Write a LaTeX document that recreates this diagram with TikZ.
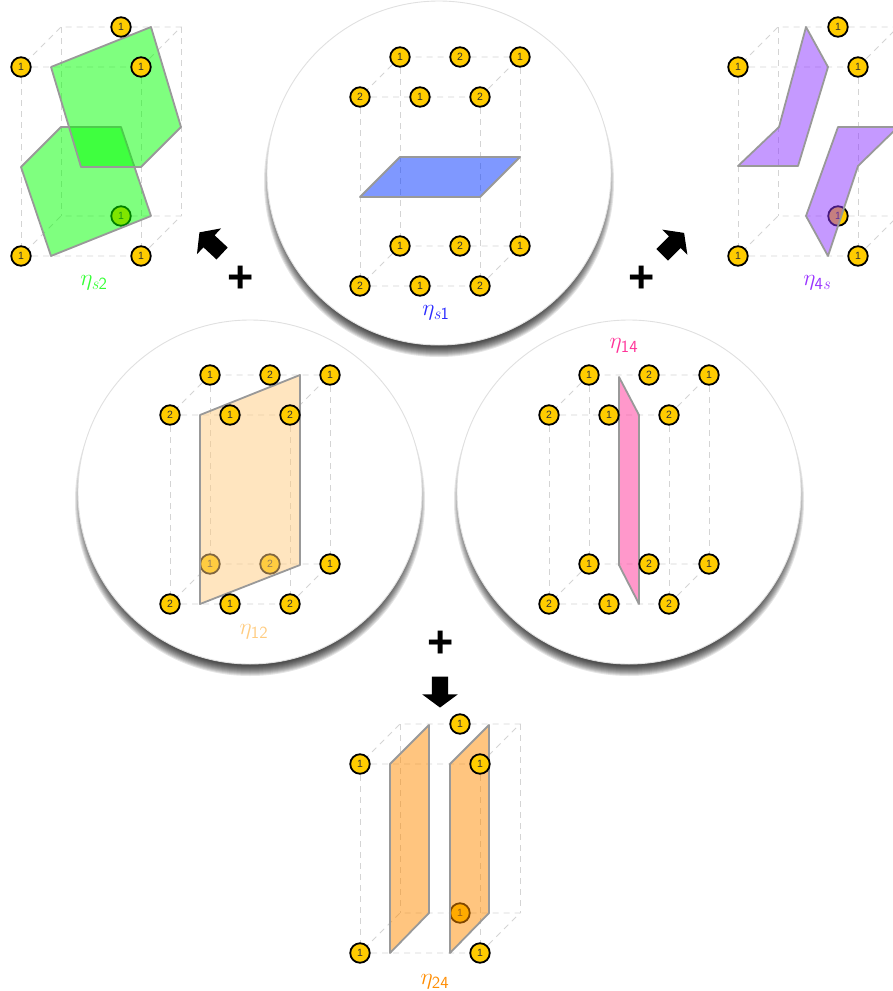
\documentclass[tikz,border=0pt]{standalone}
\usepackage{fontspec}
\newfontfamily\atomfont{Liberation Sans}
\usetikzlibrary{shapes.arrows}

\definecolor{atomyellow}{HTML}{FFCC00}
\definecolor{colS1}{HTML}{0033FF}
\definecolor{tagS1}{HTML}{2A2AFF}
\definecolor{colS2}{HTML}{00FF00}
\definecolor{col4S}{HTML}{8C33FF}
\definecolor{tag4S}{HTML}{9933FF}
\definecolor{col12}{HTML}{FFCC80}
\definecolor{col14}{HTML}{FF3399}
\definecolor{col24}{HTML}{FF8C00}

\tikzset{
	edge/.style={draw=black!17,line width=0.9pt,dash pattern=on 6pt off 5pt},
	atom/.style={circle,draw=black,line width=1.8pt,fill=atomyellow,minimum size=19.5pt,inner sep=0pt,font=\atomfont\fontsize{10.5}{10.5}\selectfont,text=black!80},
	plane/.style={draw=black!40,line width=1.8pt,line join=round,fill opacity=0.5},
	bubble/.style={circle,fill=white,draw=black!12,line width=0.9pt,minimum size=344pt,inner sep=0pt},
	tag/.style={inner sep=0pt,scale=1.35,font=\fontsize{18}{18}\selectfont},
	bigarrow/.style={single arrow,fill=black,inner sep=0pt,text width=6pt,text height=8pt,text depth=8pt,minimum height=31pt,single arrow head extend=9.5pt,single arrow tip angle=107},
	plus/.style={inner sep=0pt,font=\atomfont\bfseries\fontsize{45}{45}\selectfont}
}

% name, x and y of the top front left corner
\newcommand{\cellframe}[3]{
	\coordinate (#1tfl) at (#2,#3);
	\coordinate (#1tfm) at (#2+60,#3);
	\coordinate (#1tfr) at (#2+120,#3);
	\coordinate (#1tbl) at (#2+40,#3-40);
	\coordinate (#1tbm) at (#2+100,#3-40);
	\coordinate (#1tbr) at (#2+160,#3-40);
	\coordinate (#1bfl) at (#2,#3+189);
	\coordinate (#1bfm) at (#2+60,#3+189);
	\coordinate (#1bfr) at (#2+120,#3+189);
	\coordinate (#1bbl) at (#2+40,#3+149);
	\coordinate (#1bbm) at (#2+100,#3+149);
	\coordinate (#1bbr) at (#2+160,#3+149);
	\draw[edge] (#1tfl)--(#1tfr)--(#1tbr)--(#1tbl)--cycle;
	\draw[edge] (#1bfl)--(#1bfr)--(#1bbr)--(#1bbl)--cycle;
	\draw[edge] (#1tfl)--(#1bfl);
	\draw[edge] (#1tfr)--(#1bfr);
	\draw[edge] (#1tbl)--(#1bbl);
	\draw[edge] (#1tbr)--(#1bbr);
}
% a disc with the shadow under it
\newcommand{\bubbleat}[3]{
	\foreach \r in {165,166,...,175}
		\fill[black,opacity=0.1] (#2,#3+9) circle (\r);
	\node[bubble] (#1) at (#2,#3) {};
}

\begin{document}
\begin{tikzpicture}[x=1pt,y=-1pt]
	\useasboundingbox (0,0) rectangle (893,991);

	\bubbleat{bubS1}{439}{173}
	\bubbleat{bub12}{250}{492}
	\bubbleat{bub14}{629}{492}

	% top left
	\cellframe{sb}{21}{67}
	\node[atom] (sbn1) at (sbbbm) {1};
	\draw[plane,fill=colS2] (21,167)--(61,127)--(121,127)--(151,216)--(51,256)--cycle;
	\draw[plane,fill=colS2] (51,67)--(151,27)--(181,127)--(141,167)--(81,167)--cycle;
	\foreach \p in {tfl,tfr,tbm,bfl,bfr}
		\node[atom] (sbn\p) at (sb\p) {1};
	\node[tag,text=colS2!80!white] (tagSb) at (94,283) {$\eta_{\mathit{s}\mathsf{2}}$};

	% top middle
	\cellframe{sa}{360}{97}
	\draw[plane,fill=colS1] (360,197)--(480,197)--(520,157)--(400,157)--cycle;
	\foreach \p/\v in {tfl/2,tfm/1,tfr/2,tbl/1,tbm/2,tbr/1,bfl/2,bfm/1,bfr/2,bbl/1,bbm/2,bbr/1}
		\node[atom] (san\p) at (sa\p) {\v};
	\node[tag,text=tagS1] (tagSa) at (436,313) {$\eta_{\mathit{s}\mathsf{1}}$};

	% top right
	\cellframe{fs}{738}{67}
	\node[atom] (fsn1) at (fsbbm) {1};
	\draw[plane,fill=col4S] (738,166)--(779,127)--(806,27)--(828,67)--(798,166)--cycle;
	\draw[plane,fill=col4S] (838,127)--(898,127)--(858,166)--(828,256)--(806,216)--cycle;
	\foreach \p in {tfl,tfr,tbm,bfl,bfr}
		\node[atom] (fsn\p) at (fs\p) {1};
	\node[tag,text=tag4S] (tagFs) at (817,283) {$\eta_{\mathsf{4}\mathit{s}}$};

	% middle left
	\cellframe{ot}{170}{415}
	\node[atom] (otn1) at (otbbl) {1};
	\node[atom] (otn2) at (otbbm) {2};
	\draw[plane,fill=col12] (200,415)--(300,375)--(300,565)--(200,604)--cycle;
	\foreach \p/\v in {tfl/2,tfm/1,tfr/2,tbl/1,tbm/2,tbr/1,bfl/2,bfm/1,bfr/2,bbr/1}
		\node[atom] (otn\p) at (ot\p) {\v};
	\node[tag,text=col12] (tagOt) at (254,632) {$\eta_{\mathsf{12}}$};

	% middle right
	\cellframe{of}{549}{415}
	\draw[plane,fill=col14] (619,377)--(639,415)--(639,604)--(619,565)--cycle;
	\foreach \p/\v in {tfl/2,tfm/1,tfr/2,tbl/1,tbm/2,tbr/1,bfl/2,bfm/1,bfr/2,bbl/1,bbm/2,bbr/1}
		\node[atom] (ofn\p) at (of\p) {\v};
	\node[tag,text=col14] (tagOf) at (624,346) {$\eta_{\mathsf{14}}$};

	% bottom
	\cellframe{tf}{360}{764}
	\node[atom] (tfn1) at (tfbbm) {1};
	\draw[plane,fill=col24] (390,764)--(429,725)--(429,913)--(390,953)--cycle;
	\draw[plane,fill=col24] (450,764)--(489,725)--(489,913)--(450,953)--cycle;
	\foreach \p in {tfl,tfr,tbm,bfl,bfr}
		\node[atom] (tfn\p) at (tf\p) {1};
	\node[tag,text=col24] (tagTf) at (435,982) {$\eta_{\mathsf{24}}$};

	\node[bigarrow,rotate=137] (arrowSb) at (213,245) {};
	\node[bigarrow,rotate=45] (arrowFs) at (671,246) {};
	\node[bigarrow,rotate=-90] (arrowTf) at (440,689) {};
	\node[plus] (plusL) at (241,279) {+};
	\node[plus] (plusR) at (642,279) {+};
	\node[plus] (plusB) at (441,644) {+};
\end{tikzpicture}
\end{document}
